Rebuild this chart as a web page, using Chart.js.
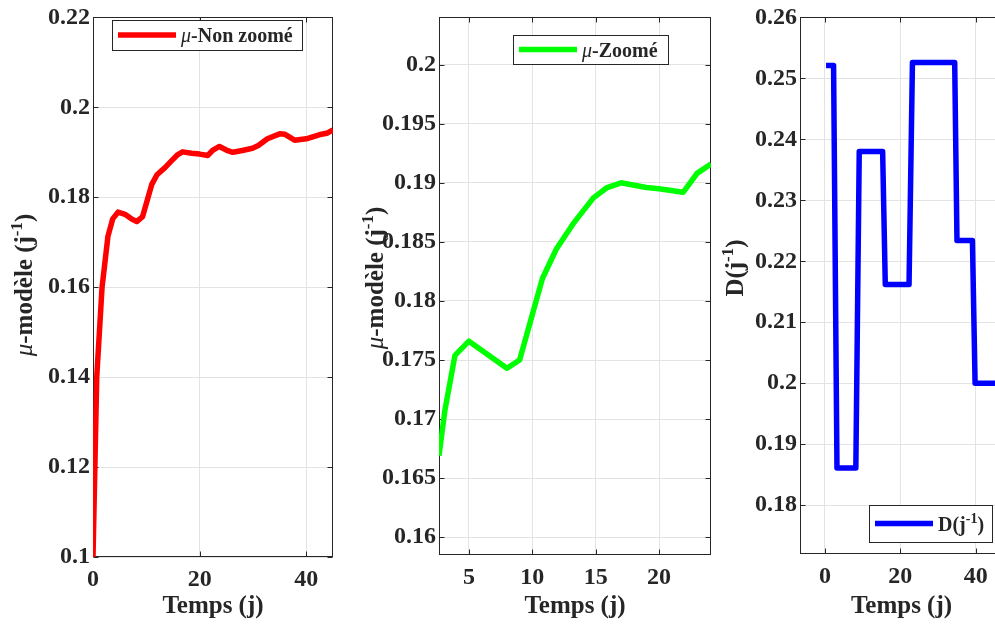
<!DOCTYPE html>
<html>
<head>
<meta charset="utf-8">
<script src="https://cdn.jsdelivr.net/npm/chart.js@4.4.1/dist/chart.umd.min.js"></script>
<style>
html, body { margin:0; padding:0; background:#fff; overflow:hidden; width:995px; height:628px; }
canvas { position:absolute; top:0; }
</style>
</head>
<body>
<canvas id="muRaw" width="345" height="628" style="left:0px"></canvas>
<canvas id="muZoom" width="365" height="628" style="left:350px"></canvas>
<canvas id="dilution" width="300" height="628" style="left:715px"></canvas>
<script>
// données
const daysRaw = [0, 0.7, 1.7, 2.8, 3.7, 4.7, 6.0, 7.2, 8.2, 9.3, 11.0, 12.0, 13.5, 14.8, 15.9, 16.8, 18.5, 20.0, 21.5, 22.5, 23.7, 25.0, 26.2, 28.0, 29.9, 31.0, 32.7, 35.0, 36.0, 37.8, 40.0, 42.4, 44.0, 45.0];
const muRaw = [0.100, 0.140, 0.160, 0.1713, 0.1752, 0.1767, 0.1762, 0.1752, 0.1746, 0.1757, 0.1828, 0.1850, 0.1866, 0.1882, 0.1895, 0.1901, 0.1898, 0.1896, 0.1893, 0.1905, 0.1913, 0.1905, 0.1900, 0.1904, 0.1909, 0.1915, 0.1930, 0.1941, 0.1940, 0.1927, 0.1930, 0.1939, 0.1943, 0.1950];

const daysZoom = [2.64, 3.1, 3.9, 5.0, 8.0, 9.0, 10.8, 11.9, 13.2, 14.8, 15.9, 17.0, 19.0, 20.0, 21.9, 23.0, 24.1];
const muZoom = [0.1669, 0.1707, 0.1754, 0.1766, 0.1743, 0.1750, 0.1819, 0.1844, 0.1865, 0.1887, 0.1896, 0.1900, 0.1896, 0.1895, 0.1892, 0.1908, 0.1916];

const daysD = [0.3, 2.3, 3.2, 8.2, 9.1, 15.3, 16.0, 22.3, 23.2, 34.4, 35.0, 39.1, 39.8, 48];
const dRate = [0.2521, 0.2521, 0.1861, 0.1861, 0.2380, 0.2380, 0.2162, 0.2162, 0.2526, 0.2526, 0.2234, 0.2234, 0.2000, 0.2000];

const xTicksRaw = [0, 20, 40];
const yTicksRaw = [0.1, 0.12, 0.14, 0.16, 0.18, 0.2, 0.22];
const xTicksZoom = [5, 10, 15, 20];
const yTicksZoom = [0.16, 0.165, 0.17, 0.175, 0.18, 0.185, 0.19, 0.195, 0.2];
const xTicksD = [0, 20, 40];
const yTicksD = [0.18, 0.19, 0.2, 0.21, 0.22, 0.23, 0.24, 0.25, 0.26];

const SERIF = "'Liberation Serif', 'Times New Roman', serif";
const AXIS = '#262626';
const GRID = '#e3e3e3';

function fmt(v) { return String(parseFloat(v.toFixed(4))); }

// texte avec morceaux italique / gras / exposant
function drawParts(ctx, parts, x, y, centered) {
    let w = 0;
    parts.forEach(p => { ctx.font = p[1] + ' ' + p[2] + 'px ' + SERIF; w += ctx.measureText(p[0]).width; });
    let cx = centered ? x - w / 2 : x;
    ctx.textAlign = 'left';
    ctx.textBaseline = 'alphabetic';
    ctx.fillStyle = AXIS;
    parts.forEach(p => {
        ctx.font = p[1] + ' ' + p[2] + 'px ' + SERIF;
        ctx.fillText(p[0], cx, y - (p[3] || 0));
        cx += ctx.measureText(p[0]).width;
    });
}

function makeAxesPlugin(cfg) {
    return {
        id: 'matlabAxes',
        beforeDatasetsDraw(chart) {
            const { ctx, chartArea: a, scales: { x, y } } = chart;
            const l = Math.round(a.left) + 0.5, r = Math.round(a.right) - 0.5;
            const t = Math.round(a.top) + 0.5, b = Math.round(a.bottom) - 0.5;
            ctx.save();
            ctx.strokeStyle = AXIS;
            ctx.lineWidth = 1;
            ctx.strokeRect(l, t, r - l, b - t);
            ctx.beginPath();
            x.ticks.forEach(tk => {
                const px = Math.round(x.getPixelForValue(tk.value)) + 0.5;
                ctx.moveTo(px, b); ctx.lineTo(px, b - 5);
                ctx.moveTo(px, t); ctx.lineTo(px, t + 5);
            });
            y.ticks.forEach(tk => {
                const py = Math.round(y.getPixelForValue(tk.value)) + 0.5;
                ctx.moveTo(l, py); ctx.lineTo(l + 5, py);
                ctx.moveTo(r, py); ctx.lineTo(r - 5, py);
            });
            ctx.stroke();
            ctx.restore();
        },
        afterDatasetsDraw(chart) {
            const ctx = chart.ctx;
            const ds = chart.data.datasets[0];
            ctx.save();
            // légende
            const [bx, by, bw, bh] = cfg.legend;
            ctx.fillStyle = '#fff';
            ctx.fillRect(bx, by, bw, bh);
            ctx.strokeStyle = AXIS;
            ctx.lineWidth = 1;
            ctx.strokeRect(bx + 0.5, by + 0.5, bw, bh);
            const my = by + bh / 2;
            ctx.strokeStyle = ds.borderColor;
            ctx.lineWidth = 5.5;
            ctx.beginPath();
            ctx.moveTo(bx + 6, my); ctx.lineTo(bx + 64, my);
            ctx.stroke();
            drawParts(ctx, cfg.legendText, bx + 69, my + 7, false);
            // titre axe y
            ctx.translate(cfg.yTitle[0], cfg.yTitle[1]);
            ctx.rotate(-Math.PI / 2);
            drawParts(ctx, cfg.yTitleText, 0, 0, true);
            ctx.restore();
        }
    };
}

function makeChart(id, days, values, color, label, xr, yr, xt, yt, box, cfg) {
    const tickFont = { family: SERIF, size: 24, weight: 'bold' };
    return new Chart(document.getElementById(id), {
        type: 'scatter',
        data: {
            datasets: [{
                label: label,
                data: days.map((d, i) => ({ x: d, y: values[i] })),
                showLine: true,
                borderColor: color,
                borderWidth: 5.5,
                borderJoinStyle: 'round',
                pointRadius: 0,
                tension: 0
            }]
        },
        options: {
            responsive: false,
            animation: false,
            devicePixelRatio: 1,
            layout: { padding: { top: box.top, right: box.right, left: 0, bottom: 0 } },
            plugins: { legend: { display: false }, tooltip: { enabled: false } },
            scales: {
                x: {
                    type: 'linear', min: xr[0], max: xr[1],
                    afterBuildTicks: s => { s.ticks = xt.map(v => ({ value: v })); },
                    afterFit: s => { s.height = box.xh; },
                    grid: { color: GRID, drawTicks: false },
                    border: { display: false },
                    ticks: { font: tickFont, color: AXIS, padding: 8, maxRotation: 0, autoSkip: false, callback: v => fmt(v) },
                    title: { display: true, text: 'Temps (j)', color: AXIS, font: { family: SERIF, size: 25, weight: 'bold' }, padding: { top: 0, bottom: 6 } }
                },
                y: {
                    type: 'linear', min: yr[0], max: yr[1],
                    afterBuildTicks: s => { s.ticks = yt.map(v => ({ value: v })); },
                    afterFit: s => { s.width = box.yw; },
                    grid: { color: GRID, drawTicks: false },
                    border: { display: false },
                    ticks: { font: tickFont, color: AXIS, padding: 3, autoSkip: false, callback: v => fmt(v) }
                }
            }
        },
        plugins: [makeAxesPlugin(cfg)]
    });
}

const muTitle = [['μ', 'italic', 25], ['-modèle (j', 'bold', 25], ['-1', 'bold', 17, 10], [')', 'bold', 25]];

makeChart('muRaw', daysRaw, muRaw, '#ff0000', 'μ-Non zoomé',
    [0, 45], [0.1, 0.22], xTicksRaw, yTicksRaw,
    { top: 14, right: 12, yw: 93, xh: 71 },
    { legend: [112, 20, 190, 30], legendText: [['μ', 'italic', 20], ['-Non zoomé', 'bold', 20]],
      yTitle: [32, 285], yTitleText: muTitle });

makeChart('muZoom', daysZoom, muZoom, '#00ff00', 'μ-Zoomé',
    [2.64, 24.1], [0.1585, 0.204], xTicksZoom, yTicksZoom,
    { top: 15, right: 4, yw: 89, xh: 73 },
    { legend: [163, 35, 155, 29], legendText: [['μ', 'italic', 20], ['-Zoomé', 'bold', 20]],
      yTitle: [33, 278], yTitleText: muTitle });

makeChart('dilution', daysD, dRate, '#0000ff', 'D(j-1)',
    [-6.6, 47.2], [0.172, 0.26], xTicksD, yTicksD,
    { top: 15, right: 12, yw: 85, xh: 74 },
    { legend: [154, 505, 123, 37], legendText: [['D(j', 'bold', 20], ['-1', 'bold', 14, 8], [')', 'bold', 20]],
      yTitle: [28, 268], yTitleText: [['D(j', 'bold', 25], ['-1', 'bold', 17, 10], [')', 'bold', 25]] });
</script>
</body>
</html>
